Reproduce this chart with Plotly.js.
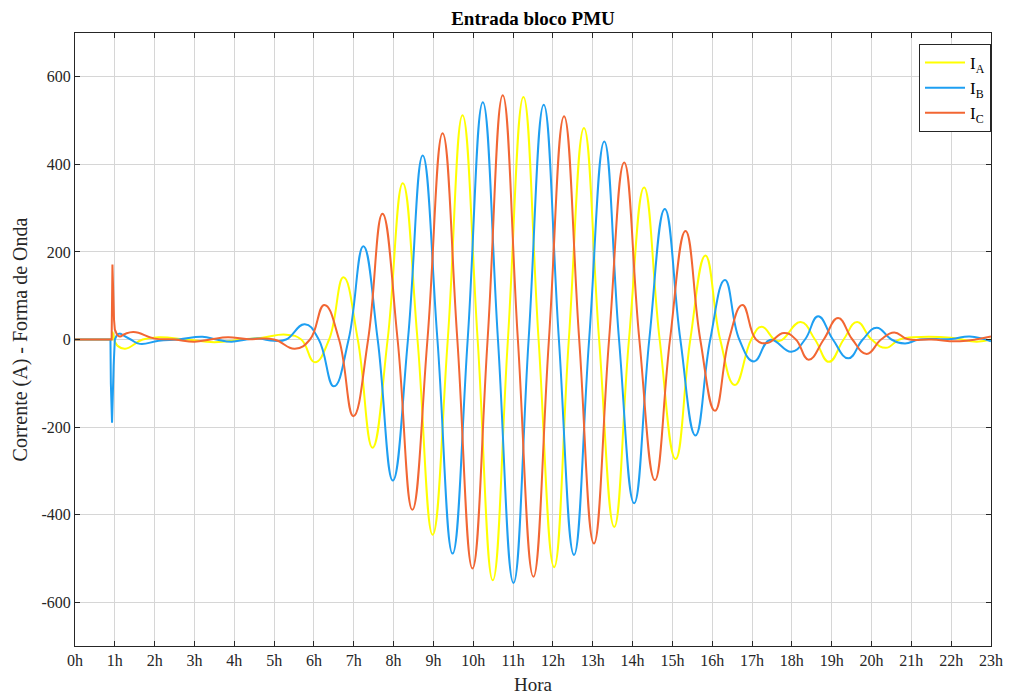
<!DOCTYPE html>
<html>
<head>
<meta charset="utf-8">
<script src="https://cdn.plot.ly/plotly-3.0.1.min.js"></script>
<style>html,body{margin:0;padding:0;background:#fff;}#chart{width:1010px;height:698px;}</style>
</head>
<body>
<div id="chart"></div>
<script>
// Hours (x) and current values (A).
// Switching transient near 1h (drawn with straight segments)
var tA0 = [0, 0.92, 0.94, 1.0, 1.06];
var iA0 = [0, 0, 18, -5, -14];
var tB0 = [0, 0.89, 0.9, 0.93, 0.97, 1.0, 1.06, 1.13];
var iB0 = [0, 0, -100, -190, -60, 0, 12, 14];
var tC0 = [0, 0.92, 0.94, 0.96, 0.98, 1.0, 1.06, 1.13];
var iC0 = [0, 0, 171, 90, 45, 23, 10, 6];

// Oscillation: extrema and zero crossings
var tA = [1.06, 1.26, 1.7, 2.1, 2.8, 3.5, 4.2, 4.7, 5.3, 5.68, 6.02, 6.38, 6.74, 7.1, 7.47, 7.85, 8.23, 8.6, 8.98, 9.36, 9.73, 10.11, 10.49, 10.87, 11.26, 11.64, 12.03, 12.4, 12.78, 13.16, 13.54, 13.91, 14.29, 14.68, 15.08, 15.45, 15.83, 16.2, 16.57, 16.98, 17.24, 17.66, 18.22, 18.58, 18.93, 19.3, 19.64, 20.0, 20.36, 20.7, 21.05, 22.0, 22.64, 23];
var iA = [-14, -21, 0, 5, 0, -6, 0, 4, 11, 0, -52, 0, 142, 0, -247, 0, 357, 0, -446, 0, 512, 0, -550, 0, 554, 0, -520, 0, 483, 0, -428, 0, 347, 0, -273, 0, 192, 0, -104, 0, 29, -4, 40, 0, -51, 0, 40, 0, -19, 0, 5, 4, -5, 0];

var tB = [1.13, 1.4, 1.63, 2.1, 2.6, 3.2, 3.55, 3.93, 4.3, 4.6, 5.0, 5.3, 5.77, 6.12, 6.5, 6.87, 7.24, 7.6, 7.98, 8.36, 8.73, 9.1, 9.48, 9.86, 10.24, 10.62, 11.01, 11.39, 11.77, 12.15, 12.53, 12.91, 13.29, 13.66, 14.04, 14.42, 14.81, 15.2, 15.58, 15.95, 16.32, 16.68, 17.05, 17.45, 17.99, 18.33, 18.66, 19.03, 19.42, 19.78, 20.13, 20.5, 20.84, 21.2, 22.0, 22.47, 23];
var iB = [14, 0, -10, -3, 0, 6, 0, -5, 0, 2, -3, 0, 35, 0, -107, 0, 213, 0, -322, 0, 420, 0, -489, 0, 542, 0, -556, 0, 536, 0, -492, 0, 452, 0, -374, 0, 298, 0, -219, 0, 136, 0, -50, -1, -28, 0, 53, 0, -43, 0, 27, 0, -9, 0, 1, 7, -4];

var tC = [1.13, 1.46, 2.0, 2.5, 3.0, 3.4, 3.84, 4.3, 5.0, 5.52, 5.9, 6.26, 6.63, 6.99, 7.36, 7.72, 8.1, 8.47, 8.85, 9.23, 9.6, 9.98, 10.36, 10.74, 11.12, 11.51, 11.9, 12.28, 12.66, 13.03, 13.41, 13.79, 14.17, 14.56, 14.94, 15.33, 15.7, 16.07, 16.42, 16.76, 17.1, 17.38, 17.8, 18.1, 18.42, 18.8, 19.16, 19.52, 19.88, 20.24, 20.57, 20.9, 21.5, 22.22, 23];
var iC = [6, 17, 2, 0, -5, 0, 5, 1, 0, -21, 0, 79, 0, -175, 0, 287, 0, -389, 0, 471, 0, -523, 0, 558, 0, -542, 0, 510, 0, -466, 0, 404, 0, -321, 0, 248, 0, -163, 0, 79, 0, -8, 15, 0, -46, 0, 49, 0, -33, 0, 16, 1, 0, -4, 7];

var hourVals = [0,1,2,3,4,5,6,7,8,9,10,11,12,13,14,15,16,17,18,19,20,21,22,23];
var hourLabels = ['0h','1h','2h','3h','4h','5h','6h','7h','8h','9h','10h','11h','12h','13h','14h','15h','16h','17h','18h','19h','20h','21h','22h','23h'];
var yTicks = [-600, -400, -200, 0, 200, 400, 600];
var yLabels = ['-600', '-400', '-200', '0', '200', '400', '600'];

var serif = '"Liberation Serif", "Times New Roman", serif';
var colA = '#FFFF00', colB = '#1E9FF2', colC = '#F26633';

function tr(x, y, name, color, shape, legend) {
  return {x: x, y: y, name: name, type: 'scatter', mode: 'lines', showlegend: legend,
          line: shape === 'spline' ? {color: color, width: 2, shape: 'spline', smoothing: 1.3}
                                   : {color: color, width: 2, shape: 'linear'}};
}

var data = [
  tr(tA0, iA0, 'I<sub>A</sub>', colA, 'linear', false),
  tr(tA, iA, 'I<sub>A</sub>', colA, 'spline', true),
  tr(tB0, iB0, 'I<sub>B</sub>', colB, 'linear', false),
  tr(tB, iB, 'I<sub>B</sub>', colB, 'spline', true),
  tr(tC0, iC0, 'I<sub>C</sub>', colC, 'linear', false),
  tr(tC, iC, 'I<sub>C</sub>', colC, 'spline', true)
];

var layout = {
  width: 1010, height: 698,
  margin: {l: 75, r: 19, t: 33, b: 52},
  paper_bgcolor: '#fff', plot_bgcolor: '#fff',
  font: {family: serif, color: '#262626', size: 16},
  title: {text: '<b>Entrada bloco PMU</b>', x: 0.5, xref: 'paper', xanchor: 'center', y: 0.974, yanchor: 'middle',
          font: {family: serif, size: 19, color: '#000'}},
  showlegend: true,
  legend: {x: 1, xanchor: 'right', y: 0.982, yanchor: 'top', bgcolor: '#fff', itemwidth: 40,
           bordercolor: '#262626', borderwidth: 1, font: {family: serif, size: 17, color: '#000'}},
  xaxis: {range: [0, 23], tickvals: hourVals, ticktext: hourLabels, showgrid: true,
          gridcolor: '#d6d6d6', gridwidth: 1, zeroline: false, showline: true, mirror: 'ticks',
          linecolor: '#262626', linewidth: 1, ticks: 'inside', ticklen: 5, tickcolor: '#262626',
          tickfont: {family: serif, size: 16, color: '#262626'},
          title: {text: 'Hora', font: {family: serif, size: 19, color: '#262626'}, standoff: 9}},
  yaxis: {range: [-700, 700], tickvals: yTicks, ticktext: yLabels, showgrid: true, gridcolor: '#d6d6d6', gridwidth: 1,
          zeroline: false, showline: true, mirror: 'ticks', linecolor: '#262626', linewidth: 1,
          ticks: 'inside', ticklen: 5, tickcolor: '#262626',
          tickfont: {family: serif, size: 16, color: '#262626'},
          title: {text: 'Corrente (A) - Forma de Onda', font: {family: serif, size: 20, color: '#262626'}, standoff: 8}}
};

Plotly.newPlot('chart', data, layout, {displayModeBar: false, staticPlot: true});
</script>
</body>
</html>
